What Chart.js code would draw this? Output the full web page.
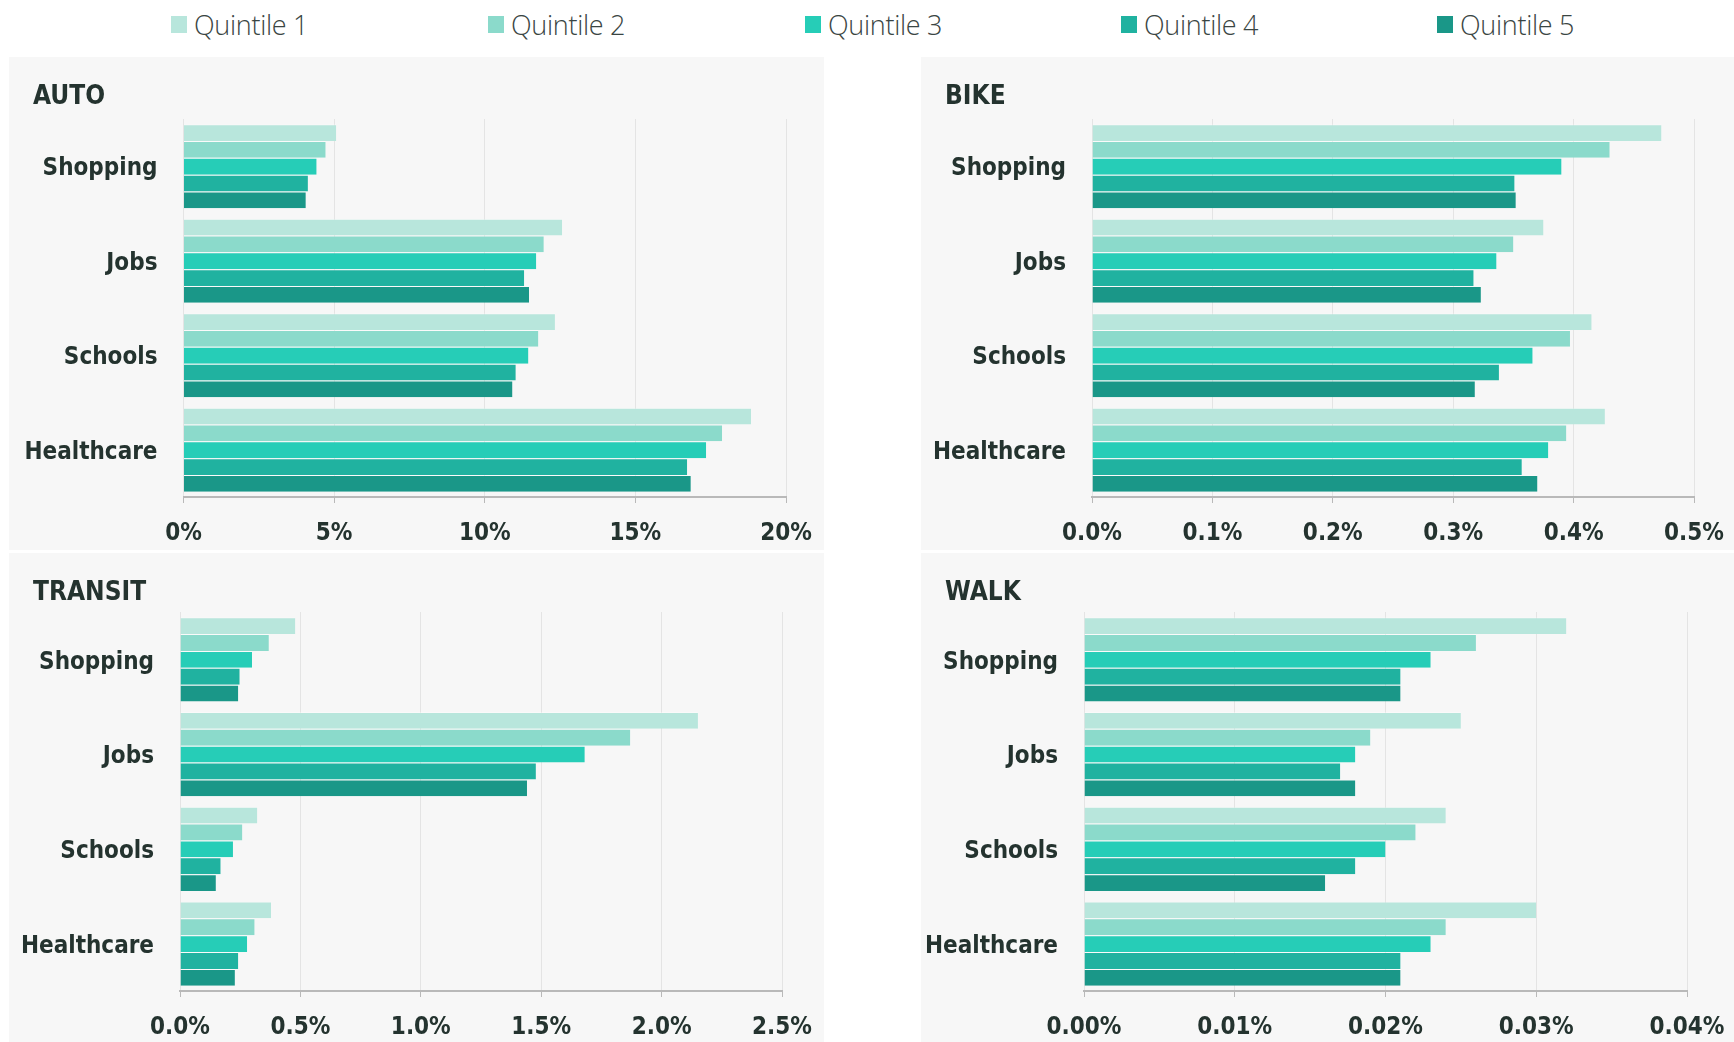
<!DOCTYPE html>
<html>
<head>
<meta charset="utf-8">
<script src="https://cdn.jsdelivr.net/npm/chart.js@4.4.1/dist/chart.umd.min.js"></script>
<style>
  body { margin: 0; background: #fff; width: 1734px; height: 1042px; position: relative; overflow: hidden; }
  .legend { position: absolute; top: 7px; left: 0; width: 1734px; height: 34px; }
  .legend-item { position: absolute; top: 0; height: 34px; display: flex; align-items: center;
    font-family: "Open Sans", "Noto Sans", sans-serif; font-weight: 300; font-size: 27px; color: #3a4543; letter-spacing: -0.3px; }
  .legend-item span.box { width: 16px; height: 17px; margin-right: 7px; display: inline-block; }
  .panel { position: absolute; background: #f7f7f7; }
  .panel canvas { position: absolute; left: 0; top: 0; }
  .panel .title { position: absolute; left: 24px; top: 21px; font-family: "DejaVu Sans Condensed", sans-serif;
    font-weight: bold; font-size: 26px; color: #24332f; line-height: 34px; }
</style>
</head>
<body>
<div class="legend" id="legend"></div>

<div class="panel" id="p-auto" style="left:9px;top:57px;width:815px;height:493px;">
  <canvas id="c-auto"></canvas><div class="title">AUTO</div>
</div>
<div class="panel" id="p-bike" style="left:921px;top:57px;width:813px;height:493px;">
  <canvas id="c-bike"></canvas><div class="title">BIKE</div>
</div>
<div class="panel" id="p-transit" style="left:9px;top:553px;width:815px;height:489px;">
  <canvas id="c-transit"></canvas><div class="title">TRANSIT</div>
</div>
<div class="panel" id="p-walk" style="left:921px;top:553px;width:813px;height:489px;">
  <canvas id="c-walk"></canvas><div class="title">WALK</div>
</div>

<script>
// categories and series
const categories = ['Shopping', 'Jobs', 'Schools', 'Healthcare'];
const quintiles = ['Quintile 1', 'Quintile 2', 'Quintile 3', 'Quintile 4', 'Quintile 5'];
const colors = ['#b8e6dc', '#8bdacb', '#26cdb7', '#20b2a0', '#1a9788'];

// values in percent, one row per quintile (Shopping, Jobs, Schools, Healthcare)
const autoValues = [
    [5.07, 12.57, 12.33, 18.84],
    [4.72, 11.96, 11.78, 17.88],
    [4.42, 11.71, 11.45, 17.35],
    [4.13, 11.31, 11.03, 16.72],
    [4.06, 11.47, 10.92, 16.84]
];
const bikeValues = [
    [0.473, 0.375, 0.415, 0.426],
    [0.430, 0.350, 0.397, 0.394],
    [0.390, 0.336, 0.366, 0.379],
    [0.351, 0.317, 0.338, 0.357],
    [0.352, 0.323, 0.318, 0.370]
];
const transitValues = [
    [0.479, 2.151, 0.321, 0.378],
    [0.369, 1.870, 0.259, 0.310],
    [0.299, 1.681, 0.220, 0.279],
    [0.248, 1.478, 0.169, 0.242],
    [0.242, 1.441, 0.149, 0.228]
];
const walkValues = [
    [0.032, 0.025, 0.024, 0.030],
    [0.026, 0.019, 0.022, 0.024],
    [0.023, 0.018, 0.020, 0.023],
    [0.021, 0.017, 0.018, 0.021],
    [0.021, 0.018, 0.016, 0.021]
];

// tick labels
const autoTicks = ['0%', '5%', '10%', '15%', '20%'];
const bikeTicks = ['0.0%', '0.1%', '0.2%', '0.3%', '0.4%', '0.5%'];
const transitTicks = ['0.0%', '0.5%', '1.0%', '1.5%', '2.0%', '2.5%'];
const walkTicks = ['0.00%', '0.01%', '0.02%', '0.03%', '0.04%'];

const textColor = '#24332f';
const labelFont = { family: '"DejaVu Sans Condensed", sans-serif', weight: 'bold', size: 24 };

// legend
const legendX = [171, 488, 805, 1121, 1437];
document.getElementById('legend').innerHTML = quintiles.map((q, i) =>
    `<div class="legend-item" style="left:${legendX[i]}px"><span class="box" style="background:${colors[i]}"></span>${q}</div>`
).join('');

function makeChart(id, values, ticks, max, step, w, h, opts) {
    const canvas = document.getElementById(id);
    canvas.width = w;
    canvas.height = h;
    canvas.style.width = w + 'px';
    canvas.style.height = h + 'px';
    new Chart(canvas, {
        type: 'bar',
        data: {
            labels: categories,
            datasets: values.map((row, i) => ({
                label: quintiles[i],
                data: row,
                backgroundColor: colors[i],
                borderColor: 'rgba(255,255,255,0.35)',
                borderWidth: { top: 1 },
                borderSkipped: false,
                barPercentage: 1,
                categoryPercentage: 0.89
            }))
        },
        options: {
            indexAxis: 'y',
            responsive: false,
            animation: false,
            devicePixelRatio: 1,
            layout: { padding: { top: opts.top, right: opts.right, left: 0, bottom: 0 } },
            plugins: { legend: { display: false }, tooltip: { enabled: false } },
            scales: {
                x: {
                    min: 0,
                    max: max,
                    ticks: {
                        stepSize: step,
                        color: textColor,
                        font: labelFont,
                        padding: 16,
                        maxRotation: 0,
                        callback: (v, i) => ticks[i]
                    },
                    grid: { color: '#e4e4e4', lineWidth: 1, tickLength: 6, tickColor: '#b9b9b9' },
                    border: { color: '#b9b9b9', width: 2 },
                    afterFit: (scale) => {
                        scale.height = opts.xh;
                        // let the layout padding alone decide the right edge
                        scale.paddingLeft = 0;
                        scale.paddingRight = 0;
                    }
                },
                y: {
                    ticks: { color: textColor, font: labelFont, padding: 26, labelOffset: 3 },
                    grid: { display: false, drawTicks: false },
                    border: { display: false },
                    afterFit: (scale) => { scale.width = opts.left; }
                }
            }
        }
    });
}

makeChart('c-auto', autoValues, autoTicks, 20, 5, 815, 493, { top: 62, right: 38, left: 174.5, xh: 53 });
makeChart('c-bike', bikeValues, bikeTicks, 0.5, 0.1, 813, 493, { top: 62, right: 40, left: 171, xh: 53 });
makeChart('c-transit', transitValues, transitTicks, 2.5, 0.5, 815, 489, { top: 59, right: 42, left: 171, xh: 51 });
makeChart('c-walk', walkValues, walkTicks, 0.04, 0.01, 813, 489, { top: 59, right: 47, left: 163, xh: 51 });
</script>
</body>
</html>
